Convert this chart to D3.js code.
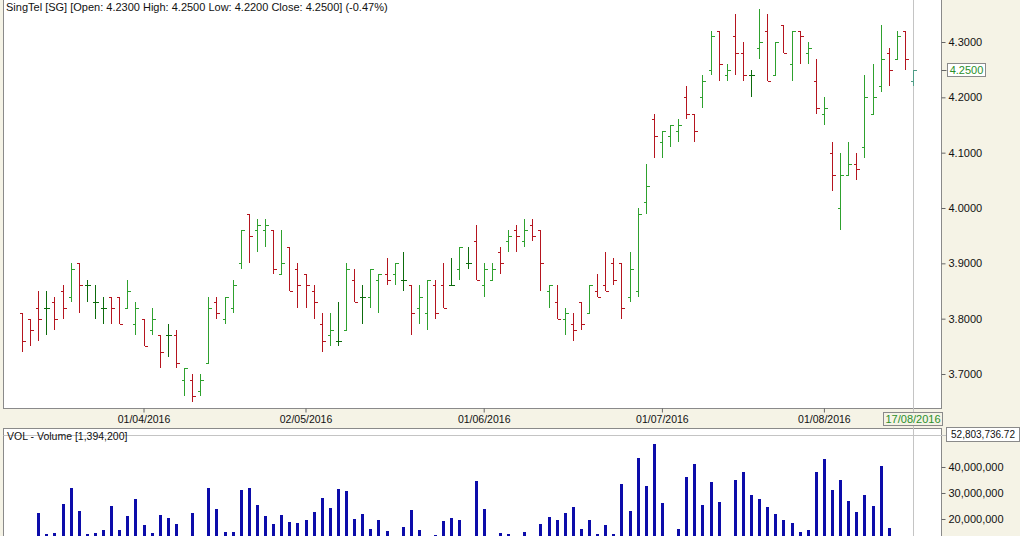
<!DOCTYPE html>
<html><head><meta charset="utf-8">
<script src="https://cdn.jsdelivr.net/npm/d3@7/dist/d3.min.js"></script>
<style>
body{margin:0;background:#f5f3e6;}
svg{display:block;font-family:"Liberation Sans",Arial,sans-serif;}
</style>
</head><body>
<svg id="c" width="1020" height="536"></svg>
<script>
// ---- data ----
const openP  = [3.81,3.80,3.82,3.82,3.83,3.85,3.84,3.90,3.86,3.83,3.82,3.84,3.84,3.82,3.79,3.80,3.78,3.77,3.77,3.77,
                3.69,3.69,3.67,3.72,3.83,3.80,3.82,3.90,3.99,3.96,3.96,3.96,3.88,3.93,3.89,3.88,3.85,3.79,3.77,3.76,
                3.78,3.87,3.84,3.84,3.87,3.88,3.88,3.87,3.86,3.82,3.81,3.86,3.86,3.86,3.89,3.90,3.94,3.86,3.87,3.92,
                3.94,3.96,3.94,3.97,3.96,3.85,3.83,3.80,3.79,3.83,3.81,3.85,3.86,3.90,3.90,3.84,3.85,4.01,4.16,4.12,
                4.13,4.14,4.20,4.17,4.20,4.25,4.32,4.24,4.31,4.28,4.24,4.29,4.32,4.24,4.33,4.26,4.32,4.28,4.23,4.17,
                4.10,4.00,4.06,4.08,4.11,4.17,4.22,4.28,4.27,4.32,4.23];
const highP  = [3.81,3.80,3.85,3.85,3.84,3.86,3.90,3.90,3.87,3.86,3.84,3.84,3.84,3.87,3.83,3.80,3.82,3.77,3.79,3.78,
                3.71,3.70,3.70,3.84,3.84,3.84,3.87,3.96,3.99,3.98,3.98,3.96,3.96,3.93,3.90,3.88,3.86,3.81,3.81,3.83,
                3.90,3.89,3.86,3.89,3.88,3.91,3.90,3.92,3.86,3.86,3.87,3.87,3.90,3.91,3.93,3.93,3.97,3.90,3.90,3.93,
                3.96,3.97,3.98,3.98,3.96,3.86,3.86,3.82,3.81,3.83,3.86,3.88,3.92,3.91,3.90,3.92,4.00,4.08,4.17,4.14,
                4.15,4.16,4.22,4.17,4.24,4.32,4.32,4.26,4.35,4.30,4.25,4.36,4.35,4.30,4.33,4.32,4.32,4.30,4.27,4.20,
                4.12,4.10,4.12,4.10,4.24,4.26,4.33,4.29,4.32,4.32,4.25];
const lowP   = [3.74,3.75,3.76,3.77,3.78,3.80,3.83,3.81,3.83,3.80,3.79,3.79,3.79,3.82,3.77,3.75,3.77,3.71,3.73,3.71,
                3.66,3.65,3.66,3.72,3.80,3.79,3.81,3.89,3.90,3.92,3.93,3.88,3.88,3.85,3.82,3.82,3.80,3.74,3.75,3.75,
                3.78,3.83,3.79,3.82,3.81,3.86,3.86,3.85,3.77,3.79,3.78,3.80,3.82,3.86,3.87,3.89,3.87,3.84,3.87,3.88,
                3.92,3.92,3.93,3.94,3.85,3.82,3.80,3.77,3.76,3.78,3.81,3.84,3.85,3.86,3.80,3.83,3.84,3.99,4.09,4.09,
                4.11,4.12,4.16,4.12,4.18,4.24,4.23,4.23,4.24,4.23,4.20,4.27,4.23,4.24,4.28,4.23,4.26,4.26,4.17,4.15,
                4.03,3.96,4.06,4.05,4.09,4.17,4.21,4.22,4.27,4.25,4.22];
const closeP = [3.76,3.78,3.80,3.82,3.80,3.82,3.89,3.86,3.86,3.83,3.82,3.82,3.79,3.85,3.82,3.75,3.80,3.74,3.77,3.72,
                3.71,3.66,3.69,3.82,3.81,3.84,3.86,3.96,3.95,3.97,3.97,3.89,3.90,3.85,3.86,3.86,3.83,3.76,3.78,3.76,
                3.89,3.83,3.84,3.89,3.88,3.87,3.90,3.87,3.81,3.84,3.87,3.81,3.82,3.86,3.93,3.90,3.87,3.89,3.89,3.90,
                3.95,3.95,3.96,3.95,3.90,3.86,3.80,3.81,3.78,3.79,3.86,3.84,3.85,3.87,3.82,3.89,3.99,4.04,4.13,4.14,
                4.15,4.15,4.17,4.14,4.23,4.31,4.26,4.25,4.28,4.24,4.24,4.30,4.23,4.30,4.28,4.32,4.31,4.29,4.18,4.18,
                4.06,4.06,4.08,4.07,4.20,4.20,4.27,4.25,4.31,4.27,4.25];
const volume = [11.0,12.0,22.3,14.2,14.6,25.8,31.9,22.9,14.2,14.6,15.8,25.0,15.8,21.0,27.7,17.7,14.6,21.5,20.4,18.1,
                11.0,22.3,10.0,31.9,23.8,15.0,15.0,31.2,31.9,25.4,21.2,18.1,21.5,18.8,18.5,19.6,22.7,28.1,24.2,31.5,
                30.8,20.0,21.9,16.2,19.6,15.4,11.0,16.9,23.5,15.8,10.0,13.8,19.2,20.4,19.6,9.0,34.6,23.8,10.0,14.6,
                14.2,11.0,15.0,12.0,18.1,20.8,19.6,22.3,24.6,16.2,19.6,14.2,17.7,14.2,33.5,23.1,43.5,32.7,48.8,26.2,
                12.0,16.2,36.2,41.2,25.4,34.2,26.5,12.0,35.0,38.1,29.2,27.7,24.6,21.9,19.6,18.5,15.0,15.8,38.1,43.1,
                31.2,35.0,26.9,22.7,29.2,25.0,40.4,16.5,12.0,11.0,1.3942].map(v => v * 1e6);
const dateTickIndex  = [15, 35, 57, 79, 99];
const dateTickLabels = ["01/04/2016", "02/05/2016", "01/06/2016", "01/07/2016", "01/08/2016"];
const lastDateLabel  = "17/08/2016";
const priceTicks  = [3.7, 3.8, 3.9, 4.0, 4.1, 4.2, 4.3];
const volumeTicks = [20e6, 30e6, 40e6];
const volumeMax   = 52803736.72;
const titleText   = "SingTel [SG] [Open: 4.2300  High: 4.2500  Low: 4.2200  Close: 4.2500] (-0.47%)";
const volTitle    = "VOL - Volume [1,394,200]";

// ---- drawing ----
const svg = d3.select("#c");
const W = 1020, H = 536;
const plotL = 3.5, plotR = 941.5;
const priceTop = -1, priceBot = 408.5;
const volTop = 428.5;

svg.append("rect").attr("width", W).attr("height", H).attr("fill", "#f5f3e6");
svg.append("rect").attr("x", plotL).attr("y", priceTop).attr("width", plotR - plotL)
   .attr("height", priceBot - priceTop).attr("fill", "#fff").attr("stroke", "#8a8a8a");
svg.append("rect").attr("x", plotL).attr("y", volTop).attr("width", plotR - plotL)
   .attr("height", 200).attr("fill", "#fff").attr("stroke", "#8a8a8a");

const n = closeP.length;
const x = d3.scaleLinear().domain([0, n - 1]).range([22, 913]);
const y = d3.scaleLinear().domain([3.7, 4.3]).range([374, 42]);
const yv = d3.scaleLinear().domain([0, volumeMax]).range([571, 433.7]);

// crosshair
svg.append("line").attr("x1", 913.5).attr("x2", 913.5).attr("y1", 0).attr("y2", H)
   .attr("stroke", "#c4c4c4");
svg.append("line").attr("x1", plotL).attr("x2", 946).attr("y1", 435.5).attr("y2", 435.5)
   .attr("stroke", "#c4c4c4");

// price axis
const ya = svg.append("g").attr("transform", `translate(${plotR},0)`)
  .call(d3.axisRight(y).tickValues(priceTicks).tickSize(4).tickPadding(3).tickFormat(d3.format(".4f")));
ya.select(".domain").remove();
ya.selectAll("line").attr("stroke", "#666");
ya.selectAll("text").attr("font-size", 11).attr("fill", "#111");

// volume axis
const va = svg.append("g").attr("transform", `translate(${plotR},0)`)
  .call(d3.axisRight(yv).tickValues(volumeTicks).tickSize(4).tickPadding(3).tickFormat(d3.format(",")));
va.select(".domain").remove();
va.selectAll("line").attr("stroke", "#666");
va.selectAll("text").attr("font-size", 11).attr("fill", "#111");

// date axis
const xa = svg.append("g").attr("transform", `translate(0,${priceBot})`)
  .call(d3.axisBottom(x).tickValues(dateTickIndex).tickSize(4).tickPadding(3)
        .tickFormat((d, i) => dateTickLabels[i]));
xa.select(".domain").remove();
xa.selectAll("line").attr("stroke", "#666");
xa.selectAll("text").attr("font-size", 10.5).attr("fill", "#111");

// OHLC bars
const colorOf = i => {
  if (i === n - 1) return "#4f9c86";
  if (closeP[i] > openP[i]) return "#2ea12e";
  if (closeP[i] < openP[i]) return "#b5151f";
  return "#0d6b0d";
};
const bars = svg.append("g").attr("shape-rendering", "crispEdges");
d3.range(n).forEach(i => {
  const cx = Math.round(x(i)) + 0.5;
  const g = bars.append("g").attr("stroke", colorOf(i)).attr("stroke-width", 1);
  g.append("line").attr("x1", cx).attr("x2", cx).attr("y1", y(highP[i])).attr("y2", y(lowP[i]));
  g.append("line").attr("x1", cx - 3).attr("x2", cx).attr("y1", Math.round(y(openP[i])) + 0.5).attr("y2", Math.round(y(openP[i])) + 0.5);
  g.append("line").attr("x1", cx).attr("x2", cx + 3).attr("y1", Math.round(y(closeP[i])) + 0.5).attr("y2", Math.round(y(closeP[i])) + 0.5);
});

// volume bars
svg.append("g").attr("shape-rendering", "crispEdges").selectAll("rect").data(volume).join("rect")
  .attr("x", (d, i) => Math.round(x(i)) - 1)
  .attr("width", 3)
  .attr("y", d => yv(d))
  .attr("height", d => Math.max(0, 571 - yv(d)))
  .attr("fill", "#0c0caa");

// label boxes
function box(x0, y0, w, h, txt, color, fill, fs) {
  svg.append("rect").attr("x", x0 + 0.5).attr("y", y0 + 0.5).attr("width", w).attr("height", h)
     .attr("fill", fill).attr("stroke", "#8a8a8a");
  svg.append("text").attr("x", x0 + w / 2 + 0.5).attr("y", y0 + h / 2 + 0.5).attr("dy", "0.35em")
     .attr("text-anchor", "middle").attr("font-size", fs || 11).attr("fill", color).text(txt);
}
svg.append("line").attr("x1", plotR).attr("x2", plotR + 5).attr("y1", Math.round(y(closeP[n - 1])) + 0.5)
   .attr("y2", Math.round(y(closeP[n - 1])) + 0.5).attr("stroke", "#666");
box(947, Math.round(y(closeP[n - 1])) - 7, 38, 13, d3.format(".4f")(closeP[n - 1]), "#2a8f2a", "#fff");
box(883, 412, 59, 13, lastDateLabel, "#2a8f2a", "#f5f3e6");
box(946, 427, 73, 14, d3.format(",.2f")(volumeMax), "#111", "#fff", 10);

// titles
svg.append("text").attr("x", 6).attr("y", 11).attr("font-size", 11).attr("fill", "#111").text(titleText);
svg.append("text").attr("x", 7).attr("y", 440).attr("font-size", 10.5).attr("fill", "#111").text(volTitle);
</script>
</body></html>
